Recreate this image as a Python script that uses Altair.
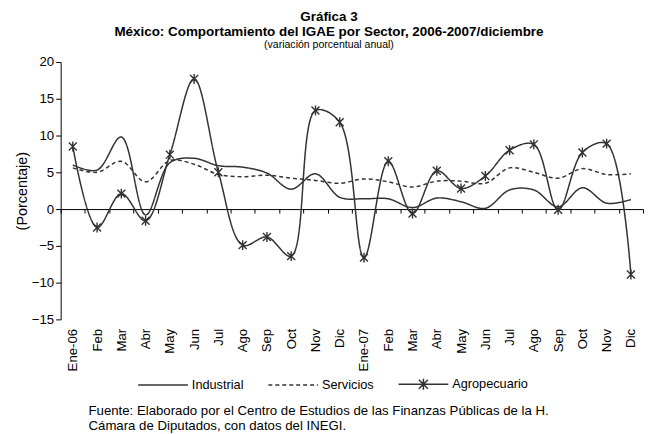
import altair as alt
import pandas as pd

labels = ["Ene-06", "Feb", "Mar", "Abr", "May", "Jun", "Jul", "Ago", "Sep", "Oct", "Nov", "Dic",
          "Ene-07", "Feb", "Mar", "Abr", "May", "Jun", "Jul", "Ago", "Sep", "Oct", "Nov", "Dic"]
series = ["Industrial", "Servicios", "Agropecuario"]
industrial = [6.0, 5.3, 9.8, -0.8, 6.3, 6.9, 5.9, 5.7, 4.9, 2.7, 4.8, 1.6,
              1.4, 1.4, 0.2, 1.5, 1.0, 0.1, 2.6, 2.6, 0.3, 2.9, 0.8, 1.3]
servicios = [5.6, 5.0, 6.5, 3.7, 6.6, 6.1, 4.7, 4.4, 4.6, 4.2, 3.9, 3.5,
             4.1, 3.7, 3.0, 3.8, 3.8, 3.5, 5.6, 5.0, 4.2, 5.5, 4.7, 4.8]
agropecuario = [8.5, -2.5, 2.1, -1.6, 7.4, 17.7, 5.0, -4.9, -3.8, -6.4, 13.4, 11.8,
                -6.6, 6.5, -0.6, 5.2, 2.8, 4.5, 8.0, 8.8, -0.1, 7.7, 8.9, -8.9]
y_ticks = [-15, -10, -5, 0, 5, 10, 15, 20]
title_lines = ["Gráfica 3", "México: Comportamiento del IGAE  por Sector, 2006-2007/diciembre"]
subtitle = "(variación porcentual anual)"
source = ["Fuente: Elaborado por el Centro de Estudios de las Finanzas Públicas de la H.",
          "Cámara de Diputados, con datos del INEGI."]

rows = []
for name, vals in zip(series, [industrial, servicios, agropecuario]):
    for i, v in enumerate(vals):
        rows.append({"idx": i, "serie": name, "valor": v})
df = pd.DataFrame(rows)

FONT = "Liberation Sans"
W, H = 586, 259
ymin, ymax = -15, 20
zero_offset = -round(H * (0 - ymin) / (ymax - ymin))
label_expr = "[" + ",".join("'%s'" % l for l in labels) + "][datum.value]"

x_enc = alt.X("idx:O", scale=alt.Scale(type="band", paddingInner=0, paddingOuter=0),
              axis=alt.Axis(title=None, labelExpr=label_expr, labelAngle=-90, offset=zero_offset,
                            tickBand="extent", tickSize=4, labelPadding=-zero_offset + 5,
                            domainColor="#000", tickColor="#000", labelColor="#000",
                            labelFont=FONT, labelFontSize=13.3))
y_enc = alt.Y("valor:Q", scale=alt.Scale(domain=[ymin, ymax], nice=False),
              axis=alt.Axis(title="(Porcentaje)", values=y_ticks, grid=False, tickSize=5,
                            labelOverlap=False,
                            domainColor="#000", tickColor="#000", labelColor="#000",
                            labelFont=FONT, labelFontSize=13.3, titleFont=FONT,
                            titleFontSize=14.5, titleFontWeight="normal", titleColor="#000",
                            titlePadding=2, labelPadding=2))

agro_legend_shape = "M-1,0L1,0M-0.18,-0.18L0.18,0.18M-0.18,0.18L0.18,-0.18M0,-0.22L0,0.22"
legend = alt.Legend(title=None, orient="none", legendX=77, legendY=298, direction="horizontal",
                    symbolSize=2500, symbolStrokeWidth=1.5, symbolStrokeColor="#333",
                    labelFont=FONT, labelFontSize=12.8, labelColor="#000", labelOffset=3,
                    columnPadding=22,
                    symbolType={"expr": "datum.value === 'Agropecuario' ? '%s' : 'stroke'" % agro_legend_shape})

lines = alt.Chart(df).mark_line(interpolate="catmull-rom", strokeWidth=1.5, color="#333").encode(
    x=x_enc, y=y_enc,
    strokeDash=alt.StrokeDash("serie:N", scale=alt.Scale(domain=series, range=[[1, 0], [4, 3], [1, 0]]),
                              legend=legend),
    detail="serie:N",
)

asterisk = "M-0.8,-0.8L0.8,0.8M-0.8,0.8L0.8,-0.8M0,-1L0,1"
points = alt.Chart(df).transform_filter(alt.datum.serie == "Agropecuario").mark_point(
    shape=asterisk, size=100, filled=False, strokeWidth=1.4, color="#333", opacity=1
).encode(x=x_enc, y=y_enc)

src = alt.Chart(pd.DataFrame({"t": ["\n".join(source)]})).mark_text(
    align="left", baseline="middle", font=FONT, fontSize=13.3, color="#000", lineBreak="\n", lineHeight=15
).encode(text="t:N", x=alt.value(28), y=alt.value(351))

chart = alt.layer(lines, points, src).properties(
    width=W, height=H, padding={"left": 6, "top": 0, "right": 5, "bottom": 0},
    title=alt.Title(text=title_lines, subtitle=subtitle, font=FONT, fontSize=13.5, fontWeight="bold",
                    color="#000", subtitleFont=FONT, subtitleFontSize=10.6, subtitleColor="#000",
                    anchor="middle", frame="bounds", offset=4, lineHeight=14.5, subtitlePadding=2.5),
).configure_view(stroke=None)

chart.save("out.html", embed_options={"renderer": "svg", "actions": False})
